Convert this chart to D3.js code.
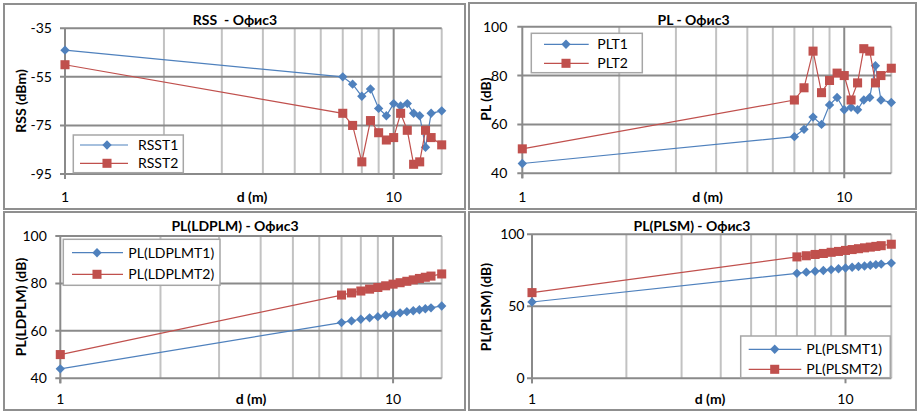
<!DOCTYPE html>
<html>
<head>
<meta charset="utf-8">
<script src="https://cdn.jsdelivr.net/npm/d3@7"></script>
<style>
  html, body { margin: 0; padding: 0; background: #fff; }
  svg { display: block; font-family: Lato, "Open Sans", "DejaVu Sans", sans-serif; }
</style>
</head>
<body>
<script>
// Measurement distances (m)
const distances = [1, 7, 7.5, 8, 8.5, 9, 9.5, 10, 10.5, 11, 11.5, 12, 12.5, 13, 14];

// Received signal strength (dBm)
const rssT1 = [-44, -55, -58, -63, -60, -68, -71, -66, -67, -66, -70, -71, -84, -70, -69];
const rssT2 = [-50, -70, -75, -90, -73, -78, -81, -80, -70, -77, -91, -90, -77, -80, -83];

// Measured path loss (dB)
const plT1 = [44, 55, 58, 63, 60, 68, 71, 66, 67, 66, 70, 71, 84, 70, 69];
const plT2 = [50, 70, 75, 90, 73, 78, 81, 80, 70, 77, 91, 90, 77, 80, 83];

// Log-distance path loss model (dB)
const ldplmT1 = [44, 63.5, 64.2, 64.9, 65.5, 66.0, 66.6, 67.1, 67.6, 68.1, 68.5, 68.9, 69.3, 69.7, 70.5];
const ldplmT2 = [50, 75.1, 76.0, 76.8, 77.6, 78.3, 79.0, 79.7, 80.3, 80.9, 81.5, 82.1, 82.6, 83.1, 84.0];

// Path loss slope model (dB)
const plsmT1 = [53, 72.9, 73.7, 74.3, 74.9, 75.5, 76.1, 76.6, 77.1, 77.6, 78.0, 78.5, 78.9, 79.3, 80.0];
const plsmT2 = [59.5, 84.3, 85.1, 86.0, 86.7, 87.5, 88.1, 88.8, 89.4, 90.0, 90.6, 91.1, 91.6, 92.1, 93.1];

// Axis ticks
const rssTicks = [-95, -75, -55, -35];
const plTicks = [40, 60, 80, 100];
const plsmTicks = [0, 50, 100];
const xTicks = [1, 10];
const xMinorGrid = [2, 3, 4, 5, 6, 7, 8, 9];
const xDomain = [1, 14];

const BLUE = "#4F81BD", RED = "#C0504D";
const W = 917, H = 412;

const panels = [
  { box: [4, 4, 461, 205], plot: [65, 28.3, 441.7, 174],
    title: "RSS  - Офис3", titleX: 235, titleY: 25,
    yTitle: "RSS (dBm)", yTitleX: 26, yTitleY: 101, yTicks: rssTicks, labelGap: 13,
    xLabelY: 201.5, xTitleX: 252,
    series: [rssT1, rssT2], names: ["RSST1", "RSST2"],
    legend: { x: 73.3, y: 135, w: 110, h: 37.7, rows: [145, 163.3], l0: 80, l1: 128, mk: 107, tx: 138 } },
  { box: [469, 3, 447, 206], plot: [522.3, 26.7, 891.3, 173.3],
    title: "PL - Офис3", titleX: 693.5, titleY: 24.5,
    yTitle: "PL (dB)", yTitleX: 490.5, yTitleY: 99, yTicks: plTicks, labelGap: 15,
    xLabelY: 201.5, xTitleX: 707.5,
    series: [plT1, plT2], names: ["PLT1", "PLT2"],
    legend: { x: 531.3, y: 33.3, w: 111, h: 39.4, rows: [44.3, 63.3], l0: 544, l1: 588.7, mk: 566, tx: 597.3 } },
  { box: [4, 212, 461, 198], plot: [60.3, 236, 441.7, 378.3],
    title: "PL(LDPLM) - Офис3", titleX: 235, titleY: 231,
    yTitle: "PL(LDPLM) (dB)", yTitleX: 25.5, yTitleY: 307, yTicks: plTicks, labelGap: 13.5,
    xLabelY: 404.3, xTitleX: 251,
    series: [ldplmT1, ldplmT2], names: ["PL(LDPLMT1)", "PL(LDPLMT2)"],
    legend: { x: 63.3, y: 239.3, w: 156.7, h: 46, rows: [252.7, 274.3], l0: 72, l1: 123, mk: 97, tx: 128.3 } },
  { box: [469, 212, 447, 198], plot: [532, 234.3, 891.3, 378.3],
    title: "PL(PLSM) - Офис3", titleX: 692, titleY: 231,
    yTitle: "PL(PLSM) (dB)", yTitleX: 490.5, yTitleY: 307, yTicks: plsmTicks, labelGap: 7.5,
    xLabelY: 404.3, xTitleX: 710,
    series: [plsmT1, plsmT2], names: ["PL(PLSMT1)", "PL(PLSMT2)"],
    legend: { x: 740.7, y: 336, w: 149.6, h: 41.7, rows: [349.3, 369.3], l0: 748.7, l1: 801.3, mk: 774.7, tx: 806.3 } }
];

const svg = d3.select("body").append("svg").attr("width", W).attr("height", H);
svg.append("rect").attr("width", W).attr("height", H).attr("fill", "#fff");

const diamond = d3.symbol().type(d3.symbolDiamond2).size(56);
const square = d3.symbol().type(d3.symbolSquare).size(82);
const markerShapes = [diamond, square];
const colors = [BLUE, RED];

panels.forEach(p => {
  const g = svg.append("g");
  const [bx, by, bw, bh] = p.box;
  g.append("rect").attr("x", bx).attr("y", by).attr("width", bw).attr("height", bh)
    .attr("fill", "#fff").attr("stroke", "#8f8f8f").attr("stroke-width", 2);

  const [x0, y0, x1, y1] = p.plot;
  const x = d3.scaleLog().domain(xDomain).range([x0, x1]);
  const y = d3.scaleLinear().domain(d3.extent(p.yTicks)).range([y1, y0]);

  // minor vertical gridlines and right border of the plot area
  g.selectAll(".minor").data(xMinorGrid.concat([xDomain[1]])).join("line")
    .attr("x1", d => x(d)).attr("x2", d => x(d)).attr("y1", y0).attr("y2", y1)
    .attr("stroke", "#c2c2c2").attr("stroke-width", 2);

  // major vertical gridline
  g.append("line").attr("x1", x(10)).attr("x2", x(10)).attr("y1", y0).attr("y2", y1)
    .attr("stroke", "#8a8a8a").attr("stroke-width", 2);

  // horizontal gridlines with outside ticks
  g.selectAll(".hgrid").data(p.yTicks).join("line")
    .attr("x1", x0 - 5).attr("x2", x1).attr("y1", d => y(d)).attr("y2", d => y(d))
    .attr("stroke", "#8a8a8a").attr("stroke-width", 2);

  // y axis line
  g.append("line").attr("x1", x0).attr("x2", x0).attr("y1", y0).attr("y2", y1 + 5)
    .attr("stroke", "#8a8a8a").attr("stroke-width", 2);
  // x ticks
  g.selectAll(".xt").data(xTicks).join("line")
    .attr("x1", d => x(d)).attr("x2", d => x(d)).attr("y1", y1).attr("y2", y1 + 5)
    .attr("stroke", "#8a8a8a").attr("stroke-width", 2);

  // y tick labels
  g.selectAll(".ylab").data(p.yTicks).join("text")
    .attr("x", x0 - p.labelGap).attr("y", d => y(d)).attr("dy", "0.36em")
    .attr("text-anchor", "end").attr("font-size", 14).attr("fill", "#000")
    .text(d => d);

  // x tick labels
  g.selectAll(".xlab").data(xTicks).join("text")
    .attr("x", d => x(d)).attr("y", p.xLabelY)
    .attr("text-anchor", "middle").attr("font-size", 14).attr("fill", "#000")
    .text(d => d);

  // titles
  g.append("text").attr("x", p.titleX).attr("y", p.titleY).attr("text-anchor", "middle")
    .attr("font-size", 14).attr("font-weight", "bold").style("white-space", "pre")
    .text(p.title);
  g.append("text").attr("x", p.xTitleX).attr("y", p.xLabelY).attr("text-anchor", "middle")
    .attr("font-size", 14).attr("font-weight", "bold").text("d (m)");
  g.append("text").attr("transform", `translate(${p.yTitleX},${p.yTitleY}) rotate(-90)`)
    .attr("text-anchor", "middle").attr("font-size", 14).attr("font-weight", "bold")
    .text(p.yTitle);

  // series
  const line = d3.line().x((d, i) => x(distances[i])).y(d => y(d));
  p.series.forEach((vals, si) => {
    g.append("path").datum(vals).attr("d", line)
      .attr("fill", "none").attr("stroke", colors[si]).attr("stroke-width", 1.2);
    g.selectAll(".m" + si).data(vals).join("path")
      .attr("transform", (d, i) => `translate(${x(distances[i])},${y(d)})`)
      .attr("d", markerShapes[si]()).attr("fill", colors[si]);
  });

  // legend
  const L = p.legend;
  const lg = g.append("g");
  lg.append("rect").attr("x", L.x).attr("y", L.y).attr("width", L.w).attr("height", L.h)
    .attr("fill", "#fff").attr("stroke", "#a6a6a6").attr("stroke-width", 1.5);
  p.names.forEach((name, si) => {
    const ry = L.rows[si];
    lg.append("line").attr("x1", L.l0).attr("x2", L.l1).attr("y1", ry).attr("y2", ry)
      .attr("stroke", colors[si]).attr("stroke-width", 1.2);
    lg.append("path").attr("transform", `translate(${L.mk},${ry})`)
      .attr("d", markerShapes[si]()).attr("fill", colors[si]);
    lg.append("text").attr("x", L.tx).attr("y", ry).attr("dy", "0.36em")
      .attr("font-size", 14).attr("fill", "#000").text(name);
  });
});
</script>
</body>
</html>
